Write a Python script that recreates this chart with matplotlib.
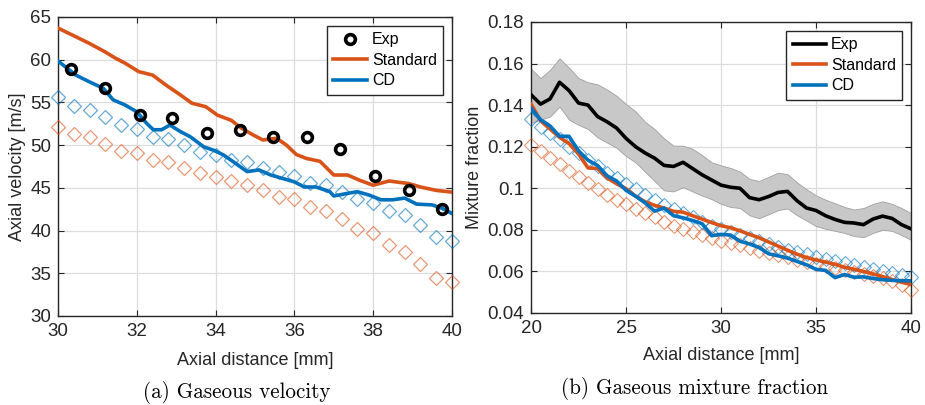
import numpy as np
import matplotlib
matplotlib.use("Agg")
import matplotlib.pyplot as plt
from matplotlib.ticker import FuncFormatter

plt.rcParams["font.family"] = ["Liberation Sans", "DejaVu Sans"]

BLUE = "#0072BD"
ORANGE = "#D95319"
DARK = "#262626"

# ---- (a) gaseous axial velocity ----
vel_exp_x = [30.33, 31.2, 32.08, 32.9, 33.77, 34.62, 35.46, 36.33, 37.16, 38.04, 38.9, 39.74]
vel_exp = [58.9, 56.7, 53.5, 53.2, 51.45, 51.8, 50.9, 50.9, 49.5, 46.4, 44.7, 42.5]

vel_std_x = [30.0, 30.4, 30.8, 31.2, 31.45, 31.7, 32.05, 32.4, 32.75, 33.1, 33.4, 33.75,
             34.05, 34.4, 34.65, 34.95, 35.2, 35.55, 35.8, 36.05, 36.3, 36.65, 37.0,
             37.35, 37.65, 38.0, 38.4, 38.9, 39.2, 39.6, 40.0]
vel_std = [63.7, 62.8, 61.9, 60.9, 60.2, 59.6, 58.6, 58.2, 57.0, 55.9, 54.9, 54.5,
           53.5, 52.9, 52.0, 51.2, 50.6, 50.8, 50.0, 48.9, 48.45, 48.1, 46.5,
           46.5, 45.9, 45.3, 45.8, 45.5, 45.1, 44.7, 44.5]

vel_cd_x = [30.0, 30.45, 30.8, 31.15, 31.4, 31.7, 32.0, 32.25, 32.42, 32.63, 32.84, 33.1,
            33.35, 33.7, 33.95, 34.2, 34.45, 34.8, 35.1, 35.4, 35.7, 36.0, 36.25, 36.55,
            36.9, 37.0, 37.35, 37.6, 37.9, 38.2, 38.5, 38.8, 39.1, 39.5, 39.75, 40.0]
vel_cd = [59.85, 58.2, 57.4, 56.65, 55.3, 54.7, 53.9, 52.55, 51.8, 51.8, 52.35, 51.6,
          51.0, 49.8, 49.4, 48.85, 48.05, 46.9, 47.1, 46.5, 46.1, 45.7, 45.1, 45.1,
          44.55, 44.05, 44.35, 44.55, 44.15, 43.6, 43.6, 43.8, 43.1, 43.0, 42.6, 42.0]

vel_sym_x = np.linspace(30, 40, 26)
vel_std_sym = [52.1, 51.3, 51.0, 50.1, 49.35, 49.05, 48.25, 48.0, 47.3, 46.7, 46.3, 45.75, 45.3,
               44.75, 43.97, 43.65, 42.7, 42.3, 41.3, 40.15, 39.7, 38.3, 37.5, 36.1, 34.5, 33.95]
vel_cd_sym = [55.6, 54.6, 54.1, 53.25, 52.35, 51.85, 51.0, 50.7, 50.0, 49.2, 48.85, 48.25, 48.0,
              47.35, 46.8, 46.4, 45.6, 45.3, 44.55, 43.7, 43.2, 42.3, 41.8, 40.65, 39.3, 38.8]

# ---- (b) gaseous mixture fraction ----
mf_x = np.linspace(20, 40, 41)
mf_exp = [0.145, 0.1405, 0.143, 0.151, 0.147, 0.141, 0.140, 0.1345, 0.132, 0.129, 0.124,
          0.120, 0.117, 0.1145, 0.111, 0.1105, 0.1125, 0.1095, 0.1065, 0.104, 0.1015,
          0.1005, 0.100, 0.0955, 0.0945, 0.096, 0.098, 0.0985, 0.094, 0.0905, 0.0893,
          0.0868, 0.085, 0.0836, 0.0833, 0.0825, 0.0852, 0.0866, 0.0855, 0.0825, 0.0805]
mf_exp_hi = [0.1575, 0.153, 0.157, 0.1625, 0.158, 0.153, 0.151, 0.150, 0.1475, 0.1445, 0.1405,
             0.137, 0.132, 0.1285, 0.124, 0.1205, 0.1205, 0.119, 0.116, 0.1125, 0.111,
             0.1098, 0.108, 0.1045, 0.1035, 0.1055, 0.1075, 0.1068, 0.1028, 0.0995, 0.0966,
             0.0945, 0.0928, 0.091, 0.0898, 0.0905, 0.0925, 0.0937, 0.0925, 0.0905, 0.088]
mf_exp_lo = [0.1315, 0.133, 0.1345, 0.1393, 0.133, 0.1305, 0.1285, 0.1245, 0.122, 0.1195, 0.1155,
             0.1125, 0.108, 0.1035, 0.099, 0.0985, 0.1005, 0.0985, 0.0965, 0.0948, 0.0925,
             0.091, 0.0905, 0.087, 0.0856, 0.0875, 0.0895, 0.0903, 0.087, 0.0845, 0.0818,
             0.0805, 0.0795, 0.0785, 0.077, 0.0765, 0.0785, 0.080, 0.0795, 0.0775, 0.0752]
mf_std = [0.1405, 0.1325, 0.1285, 0.1245, 0.1215, 0.1165, 0.1098, 0.1095, 0.105, 0.1022, 0.0998,
          0.0962, 0.0935, 0.0918, 0.0905, 0.0889, 0.0885, 0.0868, 0.0852, 0.0835, 0.082,
          0.081, 0.0795, 0.0778, 0.0762, 0.0742, 0.0722, 0.0702, 0.0683, 0.0667, 0.0655,
          0.0645, 0.0634, 0.062, 0.061, 0.060, 0.0588, 0.0575, 0.0561, 0.0548, 0.0537]
mf_cd = [0.1385, 0.133, 0.130, 0.125, 0.125, 0.118, 0.1135, 0.111, 0.106, 0.1035, 0.099,
         0.0962, 0.093, 0.089, 0.0905, 0.0868, 0.0858, 0.0845, 0.083, 0.0772, 0.0778,
         0.0775, 0.0745, 0.0732, 0.0715, 0.0685, 0.0675, 0.0664, 0.0648, 0.0632, 0.061,
         0.0605, 0.057, 0.0585, 0.0572, 0.0574, 0.0566, 0.056, 0.0557, 0.0555, 0.0555]
mf_std_sym = [0.121, 0.118, 0.1145, 0.1115, 0.1085, 0.1055, 0.1025, 0.0995, 0.097, 0.0945, 0.0925,
              0.0902, 0.088, 0.086, 0.084, 0.082, 0.0805, 0.079, 0.0775, 0.076, 0.0748,
              0.0737, 0.0725, 0.0713, 0.070, 0.0688, 0.0677, 0.0667, 0.0656, 0.0645, 0.0635,
              0.0625, 0.0615, 0.0606, 0.0597, 0.0588, 0.0578, 0.0566, 0.0552, 0.0535, 0.051]
mf_cd_sym = [0.1335, 0.1295, 0.1265, 0.1235, 0.120, 0.117, 0.1135, 0.1105, 0.1075, 0.105, 0.102,
             0.0995, 0.097, 0.0945, 0.092, 0.090, 0.088, 0.086, 0.084, 0.082, 0.0805,
             0.079, 0.0775, 0.076, 0.0745, 0.073, 0.0717, 0.0705, 0.0693, 0.0682, 0.0671,
             0.066, 0.065, 0.064, 0.063, 0.062, 0.061, 0.0601, 0.0592, 0.0583, 0.0575]


def style_axes(ax):
    ax.grid(True, color="#dcdcdc", linewidth=0.9)
    ax.set_axisbelow(True)
    for s in ax.spines.values():
        s.set_color(DARK)
        s.set_linewidth(1.0)
    ax.tick_params(direction="in", length=4, width=0.8, colors=DARK, labelsize=13.5,
                   top=True, right=True, pad=5)


def add_legend(ax, handles):
    leg = ax.legend(handles=handles, loc="upper right", fontsize=11.5,
                    fancybox=False, framealpha=1, edgecolor=DARK, handlelength=2.1,
                    borderaxespad=0.55, labelspacing=0.35, handletextpad=0.3)
    leg.get_frame().set_linewidth(1.0)
    return leg


fig = plt.figure(figsize=(9.25, 4.05), dpi=100)

ax1 = fig.add_axes([0.0627, 0.2198, 0.4259, 0.7383])
style_axes(ax1)
ax1.plot(vel_sym_x, vel_std_sym, ls="none", marker="D", ms=7, mfc="none", mec=ORANGE,
         mew=0.9, alpha=0.6, clip_on=False, zorder=3)
ax1.plot(vel_sym_x, vel_cd_sym, ls="none", marker="D", ms=7, mfc="none", mec=BLUE,
         mew=0.9, alpha=0.6, clip_on=False, zorder=3)
l_exp, = ax1.plot(vel_exp_x, vel_exp, ls="none", marker="o", ms=7, mfc="none", mec="black",
                  mew=2.6, zorder=5, label="Exp")
l_std, = ax1.plot(vel_std_x, vel_std, color=ORANGE, lw=2.6, zorder=4, label="Standard")
l_cd, = ax1.plot(vel_cd_x, vel_cd, color=BLUE, lw=2.6, zorder=4, label="CD")
ax1.set_xlim(30, 40)
ax1.set_ylim(30, 65)
ax1.set_xticks(range(30, 41, 2))
ax1.set_yticks(range(30, 66, 5))
ax1.set_xlabel("Axial distance [mm]", fontsize=13, color=DARK)
ax1.set_ylabel("Axial velocity [m/s]", fontsize=13, color=DARK)
ax1.xaxis.set_label_coords(0.5, -0.12)
ax1.yaxis.set_label_coords(-0.08, 0.5)
add_legend(ax1, [l_exp, l_std, l_cd])

ax2 = fig.add_axes([0.5741, 0.2272, 0.4108, 0.7185])
style_axes(ax2)
ax2.fill_between(mf_x, mf_exp_lo, mf_exp_hi, facecolor="#c8c8c8", edgecolor="#a0a0a0",
                 linewidth=0.6, zorder=2)
ax2.plot(mf_x, mf_std_sym, ls="none", marker="D", ms=7, mfc="none", mec=ORANGE,
         mew=0.8, alpha=0.6, clip_on=False, zorder=3)
ax2.plot(mf_x, mf_cd_sym, ls="none", marker="D", ms=7, mfc="none", mec=BLUE,
         mew=0.8, alpha=0.6, clip_on=False, zorder=3)
m_exp, = ax2.plot(mf_x, mf_exp, color="black", lw=2.6, zorder=4, label="Exp")
m_std, = ax2.plot(mf_x, mf_std, color=ORANGE, lw=2.6, zorder=4, label="Standard")
m_cd, = ax2.plot(mf_x, mf_cd, color=BLUE, lw=2.6, zorder=4, label="CD")
ax2.set_xlim(20, 40)
ax2.set_ylim(0.04, 0.18)
ax2.set_xticks(range(20, 41, 5))
ax2.set_yticks(np.arange(0.04, 0.181, 0.02))
ax2.yaxis.set_major_formatter(FuncFormatter(lambda v, p: f"{v:g}"))
ax2.set_xlabel("Axial distance [mm]", fontsize=13, color=DARK)
ax2.set_ylabel("Mixture fraction", fontsize=13, color=DARK)
ax2.xaxis.set_label_coords(0.5, -0.117)
ax2.yaxis.set_label_coords(-0.126, 0.5)
add_legend(ax2, [m_exp, m_std, m_cd])

fig.text(237 / 925, 1 - 393 / 405, "(a) Gaseous velocity", family="cmr10", fontsize=15.2,
         ha="center", va="center")
fig.text(695 / 925, 1 - 389 / 405, "(b) Gaseous mixture fraction", family="cmr10", fontsize=15.2,
         ha="center", va="center")

fig.savefig("out.png", dpi=100)
